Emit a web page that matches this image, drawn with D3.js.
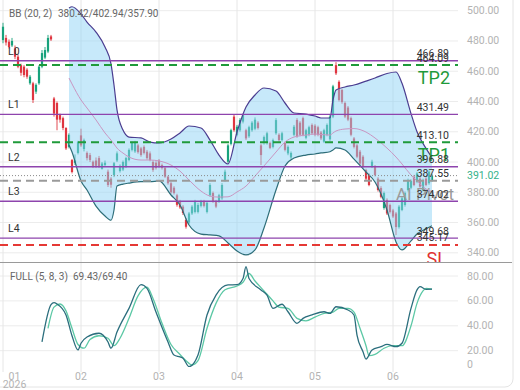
<!DOCTYPE html>
<html>
<head>
<meta charset="utf-8">
<script src="https://cdn.jsdelivr.net/npm/d3@7"></script>
<style>
  body { margin: 0; background: #fff; }
  svg { display: block; font-family: Roboto, "Noto Sans", sans-serif; }
</style>
</head>
<body>
<div id="chart"></div>
<script>
// daily candles, index 0 = first session of Jan 2026
const opens  = [480.6,482,479.5,477,475,469.6,464,463,461,452,452,446.5,452,463,469,473,483,442,439,431,429,422.5,410,401.3,399.5,406,417.6,408.6,406,404.6,400.2,401,402.6,395.5,398,393.6,389,391.4,401,394,395,397,401.3,408,407,411,409,410,406.8,405.7,400,399.5,401,398,396,390.3,386,383,378,374,370.5,361.7,360,366,367,367,371,374,367,378,379.5,374,374,376,388,400.2,412,430,417.8,421,426.7,421,417,421,422,426,411,412.6,412.6,412.6,410,419,418,414.5,412.6,405.7,403,418,427.8,426,429,416,418,424.5,424,423,419.5,413.4,418,415,430,464,453,447.6,439,436,429,415.6,411,406.8,403.5,394.7,391.4,396.9,397,389,382.8,369.6,375,371.6,368,366,357,368.3,371.6,381.5,383,390.3,387,389,381.5,389,386,388];
const closes = [489.4,479,476,480,469.6,463,459,457.5,456.4,456.4,441,451,463,472,474,482,481,432,428,428,422.5,409,418,393.4,401,413.4,411,414.5,402.6,401.3,397,397.5,397,399,399.5,384.8,385,399.2,405.7,397.5,400,402.6,408,412.6,413,406.5,404.6,406,402.6,401.3,394.7,396,397,396,390.3,386,380,379.5,371.7,370,366.3,357.2,366,370.5,374,371.6,374,371,373,384.8,374,370.5,378,384.8,393.6,411,421,421,423.3,427.8,431,415.6,423,426,428,422.5,404.6,416.5,419,409.3,414.5,427.7,414.5,419,408,410,406,423.3,416.8,418,418,421,423,419,418,418,415.6,421,424.5,430,450,458.6,441,439.6,430,428,418,410,403.5,399,397,389,384.8,400.2,391.4,381.5,377,379.5,366,367,364,357,370.5,376,379.5,388,387.5,384.8,392.5,383.7,388,384.8,393.6,391.02];
const highs  = [492,484,481,482,477,471,465,464,462,457.5,453,452,464,474,476,484,484,443,440,432,430,423,419,402,405,414,422,415.5,407,406,401,403,404,400,401,395,390,400,407,398.5,401,403.5,409,413.5,414,412,410,411,408,407,401,400.5,402,399,397,391,387,384,379,375,371.5,363,367,371.5,375,373,375,375,374,386,380.5,375,379,386,395,412,422,431.5,424.5,429,432,422,424,427,429.5,427,412,417.5,420,413.5,415.5,429,419,420,413.5,411,407,424.5,429,427,430,422,424,425.5,425,424,420.5,422,425.5,431,451,466,454,448.5,440,437,430,416.5,412,408,404.5,395.5,392.5,401.5,398,390,384,380.5,376,372.5,369,367,371.5,377,380.5,389,388.5,391.5,393.5,390,389,390,394.5,392];
const lows   = [478.5,477,475,476,468,462,457,456,455,451,439,445,451,462,468,472,480,430,421,426,421,408,409,392.5,398,405,410,407,401,400,396,396,396,395,397,383.5,383,390,400,393,394,396,400.5,407,406,405.5,403.5,405,401.5,400.5,393.5,395,396,395,389.5,385,379,378.5,370.5,369,365,356,359,365,366,366,370,370,366,377,373,369.5,373,375,387,399,411,420,417,420,425.5,414.5,416,420,421,421.5,398,411.5,411.5,408.5,409,418,413.5,413.5,407,404.5,402,417,416,417,417,415,417,418,417,417,414.5,412.5,417,414,429,457.5,440,438.5,429,427,417,409,402.5,398,396,388,384,396,390.5,380.5,376,368.5,365,366,363,351.7,356,367.5,370.5,380.5,382,384,386,383,380.5,384,385,387];

// Bollinger Bands (20, 2) read at these candle indices
const bbIndex  = [22,23,26,28,31,34,36,37,38,40,42,46,49,52,56,59,62,66,69,72,75,78,81,84,87,91,94,97,101,104,106,109,110,111,114,117,121,124,128,131,133,136,138,141,143];
const bbUpper  = [501.8,502.6,497.8,492.5,485.9,476,464.8,450.9,434.4,421.1,416.5,415.9,413.2,412.6,415.2,419.2,423.8,422.5,414.5,404.6,398.7,419.8,436.3,444.3,448.9,446.9,439,432.4,431.7,430.4,429.1,429.1,441,447.6,449.6,450.9,453.5,455.5,458.5,459.5,452,432,420,409,402.94];
const bbMiddle = [455.5,451.6,441,435.7,427.8,419.2,414.5,411.9,409.2,405.9,403.3,401.3,401.3,400.7,398,394,388.1,380.8,377.5,376.8,377,380.2,384.1,390.7,397.4,406.6,413.2,416.5,417.8,418.5,418.2,417.8,419.2,420.5,421.8,422.1,419.8,415.9,409.2,403.3,398.7,391.4,387.5,382.2,380.42];
const bbLower  = [411.2,406.6,387.5,381.5,370.9,364.3,361.5,368.3,384.1,385.4,386.1,387,387,387.5,378.2,371.6,358.4,352.4,351.8,351.2,346.5,341.2,338.6,341.9,356.4,381.5,397.4,402.6,404.6,405.3,406,406.8,408,409.3,407.9,401.9,393.4,386.8,368.3,347.2,341.9,347.9,352.4,355.8,357.9];

// Full stochastic (5, 8, 3)
const stochKIndex = [13,16,17,18,21,23,25,26,28,32,35,36,38,42,46,48,51,55,57,59,60,62,65,68,71,75,78,80,81,82,86,88,90,93,95,98,100,103,107,109,111,115,117,118,120,121,123,126,128,131,133,136,138,139,141,143];
const stochK      = [27,57,58.6,57.5,48.7,32,20.6,26,31,34,27,22,35,54,73,70,51,27,16.5,15,14,7.2,16.5,48.7,64.7,72.8,73,78,87.5,78,68.8,64.7,54,57.3,51.3,42,46,48.7,51.3,50,55.3,52.7,48.7,32.6,19.2,13.3,20.6,23.2,25.1,23.2,26,54,68.8,71.4,69.3,69.43];
const stochDIndex = [15,17,19,21,23,25,27,29,32,35,37,39,42,45,48,50,53,56,59,61,63,65,68,71,74,78,80,82,84,87,90,92,95,98,101,104,107,110,112,115,117,119,121,122,124,127,130,133,136,138,140,141,143];
const stochD      = [38,55,57.5,52,38,25,22,29,32,30,24,30,46,64,71,62,42,25,17,12,8.5,12,38,58,69,72,75,82,76,68,60,55,54,46,44,47,50,51,54,54,51,38,24,16,17,22,24,24,40,58,68,70,69.4];

// month ticks
const monthIndex  = [0,26,52,78,104,130];
const monthLabels = ["01","02","03","04","05","06"];
const yearLabel = "2026";

// price levels
const levelNames  = ["L0","L1","L2","L3","L4"];
const levelValues = [466.89,431.49,396.88,374.02,349.68];
const targetNames  = ["TP2","TP1"];
const targetValues = [464.09,413.10];
const pivotName = "AI Pivot", pivotValue = 387.55;
const stopName = "SL", stopValue = 345.17;
const lastPrice = 391.02;

const priceTicks = [500,480,460,440,420,400,380,360,340];
const stochTicks = [80,60,40,20,0];

const W = 520, H = 390;
const plotRight = 458, mainBottom = 262, subTop = 262, subBottom = 367;

const svg = d3.select("#chart").append("svg")
  .attr("width", W).attr("height", H);

const x  = d3.scaleLinear().domain([0, 143]).range([3, 432]);
const y  = d3.scaleLinear().domain([340, 500]).range([252.8, 10.7]);
const ys = d3.scaleLinear().domain([0, 80]).range([375.6, 276]);

const defs = svg.append("defs");
defs.append("clipPath").attr("id", "clipMain")
  .append("rect").attr("x", 0).attr("y", 0).attr("width", plotRight).attr("height", mainBottom);
defs.append("clipPath").attr("id", "clipSub")
  .append("rect").attr("x", 0).attr("y", subTop).attr("width", plotRight).attr("height", subBottom - subTop);

// card outline
svg.append("rect").attr("x", -8).attr("y", -8).attr("width", 521).attr("height", 395)
  .attr("rx", 8).attr("fill", "none").attr("stroke", "#e4e4e4");

// grid
const grid = svg.append("g");
grid.selectAll(".hp").data(priceTicks).join("line")
  .attr("x1", 0).attr("x2", plotRight).attr("y1", d => y(d)).attr("y2", d => y(d))
  .attr("stroke", "#ececec");
grid.selectAll(".hs").data(stochTicks.filter(d => d > 0)).join("line")
  .attr("x1", 0).attr("x2", plotRight).attr("y1", d => ys(d)).attr("y2", d => ys(d))
  .attr("stroke", "#ececec");
grid.selectAll(".v").data(monthIndex).join("line")
  .attr("x1", d => x(d)).attr("x2", d => x(d)).attr("y1", 0).attr("y2", 372)
  .attr("stroke", "#e6e6e6");

// candles
const main = svg.append("g").attr("clip-path", "url(#clipMain)");
const up = "#18a27c", down = "#df3540";
const candles = main.append("g").selectAll("g").data(d3.range(opens.length)).join("g");
candles.append("line")
  .attr("x1", i => x(i)).attr("x2", i => x(i))
  .attr("y1", i => y(highs[i])).attr("y2", i => y(lows[i]))
  .attr("stroke", i => closes[i] >= opens[i] ? up : down).attr("stroke-width", 0.9);
candles.append("rect")
  .attr("x", i => x(i) - 1.1).attr("width", 2.2)
  .attr("y", i => y(Math.max(opens[i], closes[i])))
  .attr("height", i => Math.max(1, Math.abs(y(opens[i]) - y(closes[i]))))
  .attr("fill", i => closes[i] >= opens[i] ? up : down);

// bollinger band
const bbIdx = d3.range(bbIndex.length);
main.append("path").datum(bbIdx)
  .attr("d", d3.area().x(k => x(bbIndex[k])).y0(k => y(bbLower[k])).y1(k => y(bbUpper[k])).curve(d3.curveMonotoneX))
  .attr("fill", "#8fd3f5").attr("fill-opacity", 0.5);
const bbLine = arr => d3.line().x(k => x(bbIndex[k])).y(k => y(arr[k])).curve(d3.curveMonotoneX);
main.append("path").datum(bbIdx).attr("d", bbLine(bbMiddle))
  .attr("fill", "none").attr("stroke", "#c996c2").attr("stroke-width", 1);
main.append("path").datum(bbIdx).attr("d", bbLine(bbUpper))
  .attr("fill", "none").attr("stroke", "#4b3d90").attr("stroke-width", 1.2);
main.append("path").datum(bbIdx).attr("d", bbLine(bbLower))
  .attr("fill", "none").attr("stroke", "#2d6d78").attr("stroke-width", 1.2);

// level lines
const hline = (v, color, width, dash) => main.append("line")
  .attr("x1", 0).attr("x2", plotRight).attr("y1", y(v)).attr("y2", y(v))
  .attr("stroke", color).attr("stroke-width", width).attr("stroke-dasharray", dash);
levelValues.forEach(v => hline(v, "#8e44ad", 1.4, null));
targetValues.forEach(v => hline(v, "#1f9a3a", 2, "8,5"));
hline(pivotValue, "#9a9a9a", 2, "8,5");
hline(stopValue, "#e53935", 2, "8,5");
hline(lastPrice, "#8a8a8a", 1, "1,2");

// big level names (drawn under the value labels, as in the source)
const big = main.append("g").attr("font-size", 18).attr("text-anchor", "end");
targetNames.forEach((n, k) => big.append("text")
  .attr("x", 450).attr("y", y(targetValues[k]) + 19).attr("fill", "#1f9a3a").text(n));
big.append("text").attr("x", 396).attr("y", y(pivotValue) + 19).attr("text-anchor", "start")
  .attr("fill", "#9a9a9a").attr("font-size", 17).text(pivotName);
big.append("text").attr("x", 447).attr("y", y(stopValue) + 20)
  .attr("fill", "#e03030").text(stopName);

// level labels
const labels = main.append("g").attr("font-size", 10.5).attr("fill", "#333");
levelNames.forEach((n, k) => labels.append("text")
  .attr("x", 8).attr("y", y(levelValues[k]) - 6).text(n));
[...levelValues, ...targetValues, pivotValue, stopValue].forEach(v => labels.append("text")
  .attr("x", 449).attr("y", y(v) - 3.5).attr("text-anchor", "end").text(v.toFixed(2)));

// panel separator
svg.append("line").attr("x1", 0).attr("x2", 512).attr("y1", 262.5).attr("y2", 262.5)
  .attr("stroke", "#9a9a9a").attr("stroke-width", 1.2);

// stochastic
const sub = svg.append("g").attr("clip-path", "url(#clipSub)");
sub.append("path").datum(d3.range(stochDIndex.length))
  .attr("d", d3.line().x(k => x(stochDIndex[k])).y(k => ys(stochD[k])).curve(d3.curveMonotoneX))
  .attr("fill", "none").attr("stroke", "#5cc8a5").attr("stroke-width", 1.3);
sub.append("path").datum(d3.range(stochKIndex.length))
  .attr("d", d3.line().x(k => x(stochKIndex[k])).y(k => ys(stochK[k])).curve(d3.curveMonotoneX))
  .attr("fill", "none").attr("stroke", "#2b6e7d").attr("stroke-width", 1.3);

// axes text
const axisText = svg.append("g").attr("font-size", 10.5).attr("fill", "#b3b3b3");
axisText.selectAll(".py").data(priceTicks).join("text")
  .attr("x", 467).attr("y", d => y(d) + 3.5).text(d => d.toFixed(2));
axisText.selectAll(".sy").data(stochTicks).join("text")
  .attr("x", 467).attr("y", d => Math.min(ys(d) + 3.5, 368)).text(d => d === 0 ? "0" : d.toFixed(2));
axisText.selectAll(".mx").data(monthIndex).join("text")
  .attr("x", d => Math.max(x(d), 14.5)).attr("y", 380).attr("text-anchor", "middle")
  .text((d, k) => monthLabels[k]);
axisText.append("text").attr("x", 14.5).attr("y", 388).attr("text-anchor", "middle").text(yearLabel);
svg.append("text").attr("x", 467).attr("y", y(lastPrice) + 3.5)
  .attr("font-size", 10.5).attr("fill", "#35b28a").text(lastPrice.toFixed(2));

// headers
const hdr = svg.append("g").attr("font-size", 10).attr("fill", "#666");
hdr.append("text").attr("x", 9).attr("y", 16.5).text("BB (20, 2)");
hdr.append("text").attr("x", 58).attr("y", 16.5)
  .text(`${bbMiddle[bbMiddle.length - 1].toFixed(2)}/${bbUpper[bbUpper.length - 1].toFixed(2)}/${bbLower[bbLower.length - 1].toFixed(2)}`);
hdr.append("text").attr("x", 10).attr("y", 279.5).text("FULL (5, 8, 3)");
hdr.append("text").attr("x", 73).attr("y", 279.5)
  .text(`${stochK[stochK.length - 1].toFixed(2)}/${stochD[stochD.length - 1].toFixed(2)}`);
</script>
</body>
</html>
